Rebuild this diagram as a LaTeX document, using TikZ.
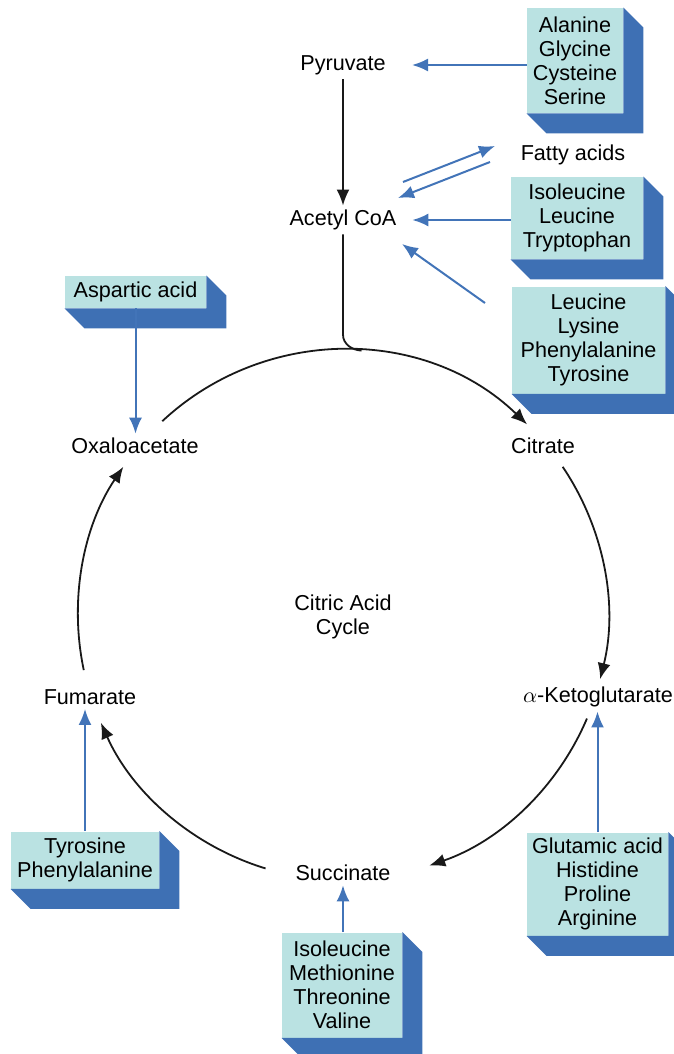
\documentclass[tikz,border=0pt]{standalone}
\usepackage{fontspec}
\setmainfont{Liberation Sans}
\usepackage{xcolor}
\usetikzlibrary{positioning, arrows.meta, calc}

\definecolor{boxfill}{HTML}{BAE2E2}
\definecolor{boxshade}{HTML}{3E70B4}
\definecolor{linkblue}{HTML}{4274B8}

\begin{document}
\begin{tikzpicture}[
  x=0.5pt, y=0.5pt,
  font=\fontsize{10.8}{12}\selectfont,
  lbl/.style={inner xsep=6pt, inner ysep=2pt, align=center},
  acid/.style={fill=boxfill, inner sep=0pt, align=center},
  barr/.style={-{Latex[length=8pt, width=6.5pt]}, linkblue, line width=1pt},
  carr/.style={-{Latex[length=8pt, width=6.5pt]}, black!90, line width=0.9pt}
]
\useasboundingbox (0,0) rectangle (674,-1054);

% metabolites
\node[lbl] (pyr) at (343,-65) {Pyruvate};
\node[lbl] (acoa) at (343,-220) {Acetyl CoA};
\node[lbl] (fatty) at (573,-155) {Fatty acids};
\node[lbl] (oaa) at (135,-446) {Oxaloacetate};
\node[lbl] (cit) at (543,-446) {Citrate};
\node[lbl] (akg) at (598,-697) {$\alpha$-Ketoglutarate};
\node[lbl] (fum) at (90,-697) {Fumarate};
\node[lbl] (suc) at (343,-873) {Succinate};
\node[lbl] (cac) at (343,-617) {Citric Acid\\Cycle};

% amino acid boxes
\node[acid, minimum width=48pt, minimum height=52.5pt] (ala) at (575,-60.5) {Alanine\\Glycine\\Cysteine\\Serine};
\node[acid, minimum width=66pt, minimum height=41pt] (ile) at (577,-218) {Isoleucine\\Leucine\\Tryptophan};
\node[acid, minimum width=76.5pt, minimum height=53.5pt] (leu) at (588.5,-340) {Leucine\\Lysine\\Phenylalanine\\Tyrosine};
\node[acid, minimum width=70.5pt, minimum height=16pt] (asp) at (135.5,-292) {Aspartic acid};
\node[acid, minimum width=74pt, minimum height=28.5pt] (tyr) at (85,-860) {Tyrosine\\Phenylalanine};
\node[acid, minimum width=60pt, minimum height=52.5pt] (met) at (342,-985) {Isoleucine\\Methionine\\Threonine\\Valine};
\node[acid, minimum width=70.5pt, minimum height=51.5pt] (glu) at (597.5,-884) {Glutamic acid\\Histidine\\Proline\\Arginine};

% extruded sides of the boxes
\foreach \b in {ala, ile, leu, asp, tyr, met, glu}
  \fill[boxshade] (\b.north east) -- ++(20,-20) |- ($(\b.south west)+(20,-20)$)
    -- (\b.south west) -- (\b.south east) -- cycle;

% the cycle
\coordinate (cc) at (343,-615);
\coordinate (join) at ($(cc)+(86:132.5pt)$);
\draw[carr] ($(cc)+(133:132.5pt)$) arc[start angle=133, end angle=46, radius=132.5pt];
\draw[carr] ($(cc)+(34:132.5pt)$) arc[start angle=34, end angle=-14, radius=132.5pt];
\draw[carr] ($(cc)+(-23:132.5pt)$) arc[start angle=-23, end angle=-71, radius=132.5pt];
\draw[carr] ($(cc)+(-107:132.5pt)$) arc[start angle=-107, end angle=-156, radius=132.5pt];
\draw[carr] ($(cc)+(192:132.5pt)$) arc[start angle=192, end angle=146, radius=132.5pt];

% entry into the cycle
\draw[carr] (pyr) -- (acoa);
\draw[black!90, line width=0.9pt] (acoa.south) -- ($(acoa.south |- join)+(0,16)$)
  to[out=-90, in=176] (join);

% amino acids feeding in
\draw[barr, shorten >=7pt] (ala.west |- pyr) -- (pyr.east);
\draw[barr, shorten >=1.75pt] (ile.west |- acoa) -- (acoa.east);
\coordinate (leuin) at (485,-303);
\draw[barr] (leuin) -- ($(acoa)+(59,-24)$);
\draw[barr] ($(acoa)+(60,38)$) -- ($(fatty)+(-78,9)$);
\draw[barr] ($(fatty)+(-83,-7)$) -- ($(acoa)+(55,22)$);
\draw[barr] (asp.south) -- (asp.south |- oaa.north);
\draw[barr] (tyr.north) -- (tyr.north |- fum.south);
\draw[barr] (suc.south |- met.north) -- (suc.south);
\draw[barr] (glu.north) -- (glu.north |- akg.south);
\end{tikzpicture}
\end{document}
